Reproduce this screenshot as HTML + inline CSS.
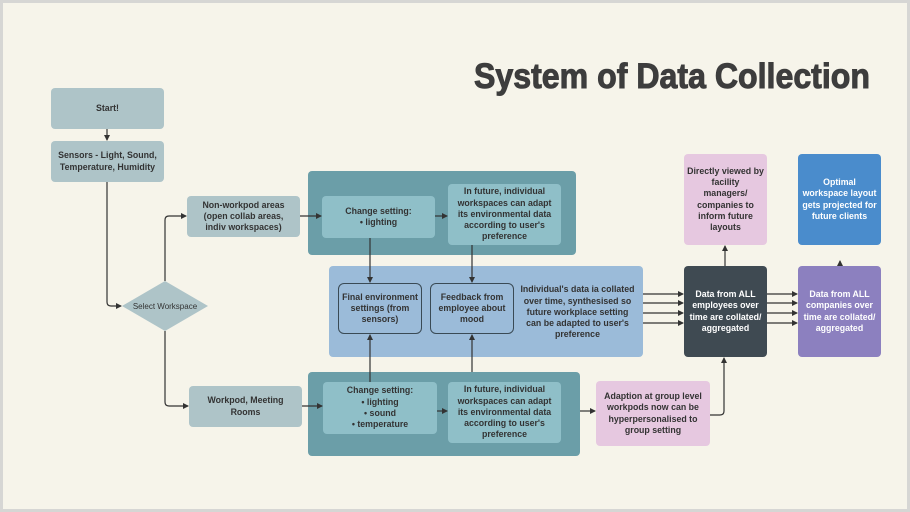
<!DOCTYPE html>
<html><head><meta charset="utf-8"><style>
body{margin:0;}
#c{position:relative;width:910px;height:512px;background:#f6f4ea;overflow:hidden;box-sizing:border-box;border:3px solid #d6d6d4;font-family:"Liberation Sans",sans-serif;}
.b{position:absolute;display:flex;align-items:center;justify-content:center;text-align:center;font-size:8.8px;font-weight:bold;color:#333;line-height:11.3px;border-radius:4px;box-sizing:border-box;}
.g{background:#aec4c8;}
.t{background:#8fbfc8;}
.ct{position:absolute;background:#6b9ea8;border-radius:4px;}
svg{position:absolute;left:0;top:0;}
</style></head><body><div id="c">
<svg width="910" height="512" style="left:-3px;top:-3px">
<text x="870" y="88" text-anchor="end" font-family="Liberation Sans" font-weight="bold" font-size="35" fill="#3d3d3d" stroke="#3d3d3d" stroke-width="1" textLength="396" lengthAdjust="spacingAndGlyphs">System of Data Collection</text>
</svg>
<div style="position:absolute;left:-3px;top:-3px;width:910px;height:512px">
<div class="b g" style="left:51px;top:88px;width:113px;height:41px">Start!</div>
<div class="b g" style="left:51px;top:141px;width:113px;height:41px">Sensors - Light, Sound,<br>Temperature, Humidity</div>
<div class="b g" style="left:187px;top:196px;width:113px;height:41px">Non-workpod areas<br>(open collab areas,<br>indiv workspaces)</div>
<div class="b g" style="left:189px;top:386px;width:113px;height:41px">Workpod, Meeting<br>Rooms</div>
<div class="ct" style="left:308px;top:171px;width:268px;height:84px"></div>
<div class="ct" style="left:308px;top:372px;width:272px;height:84px"></div>
<div class="b t" style="left:322px;top:196px;width:113px;height:42px">Change setting:<br>• lighting</div>
<div class="b t" style="left:448px;top:184px;width:113px;height:61px">In future, individual<br>workspaces can adapt<br>its environmental data<br>according to user's<br>preference</div>
<div class="b t" style="left:323px;top:382px;width:114px;height:52px">Change setting:<br>• lighting<br>• sound<br>• temperature</div>
<div class="b t" style="left:448px;top:382px;width:113px;height:61px">In future, individual<br>workspaces can adapt<br>its environmental data<br>according to user's<br>preference</div>
<div class="b" style="left:329px;top:266px;width:314px;height:91px;background:#9bbbd9"></div>
<div class="b" style="left:338px;top:283px;width:84px;height:51px;border:1px solid #3a4a55;border-radius:6px">Final environment<br>settings (from<br>sensors)</div>
<div class="b" style="left:430px;top:283px;width:84px;height:51px;border:1px solid #3a4a55;border-radius:6px">Feedback from<br>employee about<br>mood</div>
<div class="b" style="left:518px;top:280px;width:119px;height:65px">Individual's data ia collated<br>over time, synthesised so<br>future workplace setting<br>can be adapted to user's<br>preference</div>
<div class="b" style="left:596px;top:381px;width:114px;height:65px;background:#e6c8e0">Adaption at group level<br>workpods now can be<br>hyperpersonalised to<br>group setting</div>
<div class="b" style="left:684px;top:154px;width:83px;height:91px;background:#e6c8e0">Directly viewed by<br>facility<br>managers/<br>companies to<br>inform future<br>layouts</div>
<div class="b" style="left:684px;top:266px;width:83px;height:91px;background:#3f4a52;color:#fff">Data from ALL<br>employees over<br>time are collated/<br>aggregated</div>
<div class="b" style="left:798px;top:154px;width:83px;height:91px;background:#4a8ccc;color:#fff">Optimal<br>workspace layout<br>gets projected for<br>future clients</div>
<div class="b" style="left:798px;top:266px;width:83px;height:91px;background:#8c80bf;color:#fff">Data from ALL<br>companies over<br>time are collated/<br>aggregated</div>
<svg width="910" height="512">
<defs><marker id="a" markerWidth="6" markerHeight="6" refX="5" refY="3" orient="auto" markerUnits="userSpaceOnUse"><path d="M0,0L6,3L0,6z" fill="#333"/></marker></defs>
<polygon points="165,281 208,306 165,331 122,306" fill="#aec4c8"/>
<text x="165" y="309" text-anchor="middle" font-family="Liberation Sans" font-size="8" fill="#333">Select Workspace</text>
<g stroke="#333" stroke-width="1.2" fill="none" marker-end="url(#a)">
<path d="M107,129V140"/>
<path d="M107,182V302Q107,306 111,306H121"/>
<path d="M165,281V220Q165,216 169,216H186"/>
<path d="M165,331V402Q165,406 169,406H188"/>
<path d="M300,216H321"/>
<path d="M302,406H322"/>
<path d="M435,216H447"/>
<path d="M437,411H447"/>
<path d="M370,238V282"/>
<path d="M472,245V282"/>
<path d="M370,382V335"/>
<path d="M472,372V335"/>
<path d="M580,411H595"/>
<path d="M710,415H720Q724,415 724,411V358"/>
<path d="M725,266V246"/>
<path d="M840,266V261"/>
<path d="M643,294H683"/><path d="M643,303H683"/><path d="M643,313H683"/><path d="M643,323H683"/>
<path d="M767,294H797"/><path d="M767,303H797"/><path d="M767,313H797"/><path d="M767,323H797"/>
</g>
</svg>
</div>
</div></body></html>
